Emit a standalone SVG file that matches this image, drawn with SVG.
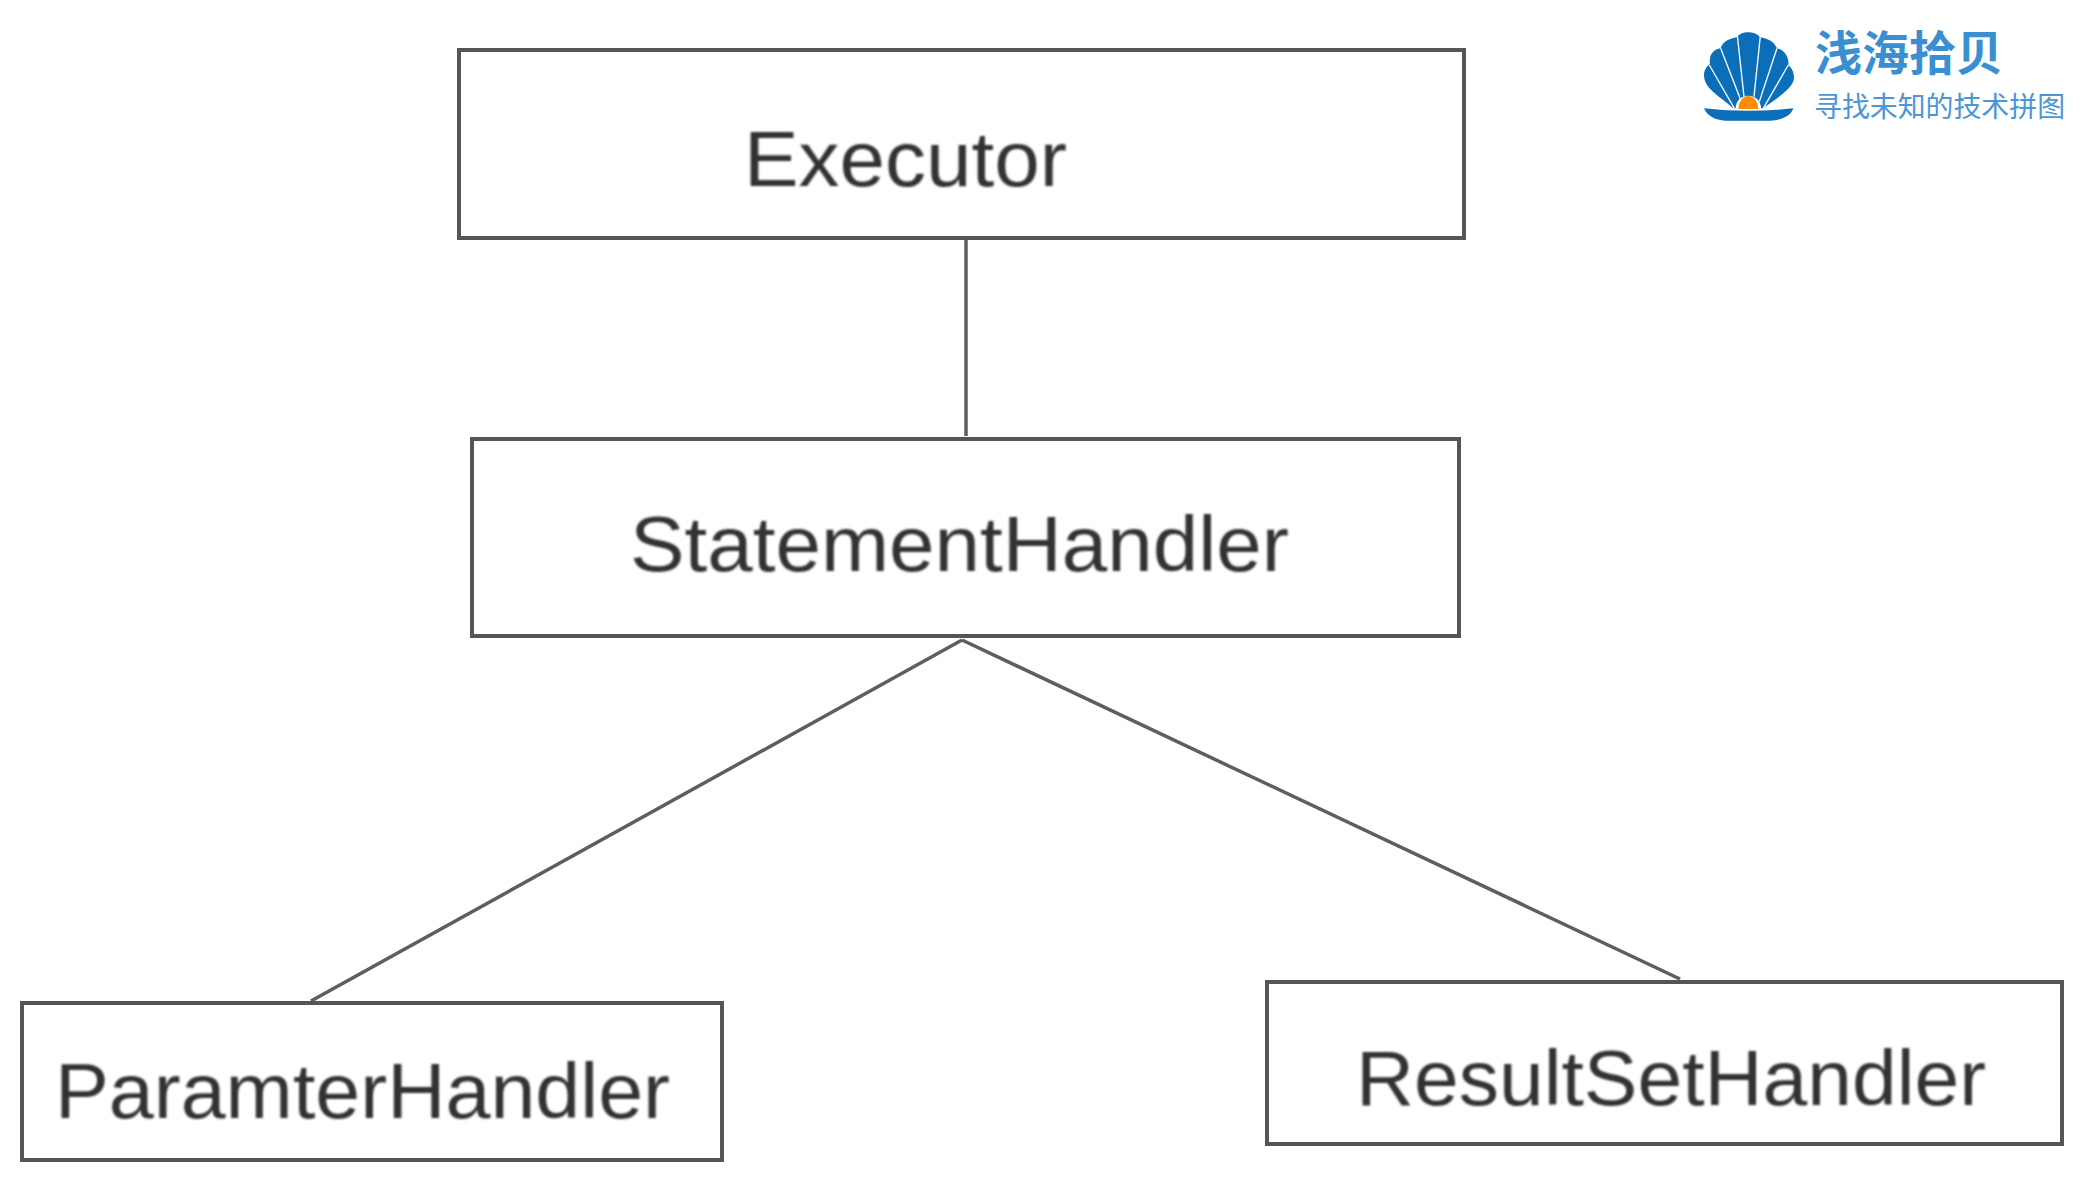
<svg xmlns="http://www.w3.org/2000/svg" width="2098" height="1196" viewBox="0 0 2098 1196">
<defs>
<style>
.box{fill:#fff;stroke:#555;stroke-width:4}
.conn{fill:none;stroke:#5e5e5e;stroke-width:3.5}
.lbl{font-family:"Liberation Sans",Arial,sans-serif;font-size:77px;fill:#333}
.t1{font-family:"Noto Sans CJK SC",sans-serif;font-size:47px;font-weight:700;fill:#3a8fd2}
.t2{font-family:"Noto Sans CJK SC",sans-serif;font-size:27.9px;fill:#4a96d6}
.rib{fill:none;stroke:#fff;stroke-width:4}
</style>
<filter id="soft" x="-5%" y="-20%" width="110%" height="140%"><feGaussianBlur stdDeviation="1"/></filter>
</defs>
<rect width="2098" height="1196" fill="#fff"/>
<g id="connectors">
<line class="conn" x1="966" y1="238" x2="966" y2="436"/>
<line class="conn" x1="962" y1="640" x2="311" y2="1001"/>
<line class="conn" x1="962" y1="640" x2="1680" y2="979"/>
</g>
<g id="executor">
<rect class="box" x="459" y="50" width="1005" height="188"/>
<text class="lbl" x="744" y="186" textLength="323" lengthAdjust="spacingAndGlyphs" filter="url(#soft)">Executor</text>
</g>
<g id="statement-handler">
<rect class="box" x="472" y="439" width="987" height="197"/>
<text class="lbl" x="630" y="571" textLength="659" lengthAdjust="spacingAndGlyphs" filter="url(#soft)">StatementHandler</text>
</g>
<g id="paramter-handler">
<rect class="box" x="22" y="1003" width="700" height="157"/>
<text class="lbl" x="55" y="1118" textLength="615" lengthAdjust="spacingAndGlyphs" filter="url(#soft)">ParamterHandler</text>
</g>
<g id="resultset-handler">
<rect class="box" x="1267" y="982" width="795" height="162"/>
<text class="lbl" x="1356" y="1105" textLength="630" lengthAdjust="spacingAndGlyphs" filter="url(#soft)">ResultSetHandler</text>
</g>
<g id="logo">
<g transform="translate(1680 0) scale(0.3333)">
<path fill="#0a6eb8" d="M160 325C115 285 72 265 72 225C72 208 82 198 90 192C86 165 100 148 122 145C128 125 150 115 170 112C180 100 192 97 205 97C220 97 232 102 241 112C262 115 282 125 291 145C312 150 328 170 325 195C335 205 342 215 342 232C342 265 295 290 250 325Z"/>
<path class="rib" d="M163 325L88 195M186 310L122 145M192 290L172 106M222 290L241 108M238 305L291 145M250 325L325 195"/>
<circle cx="205" cy="325" r="38" fill="#fff"/>
<path fill="#ff8c00" d="M175 327A30 39 0 0 1 235 327Z"/>
<path fill="#0a6eb8" d="M72 325Q205 340 340 325C332 350 300 362 270 362L140 362C110 362 82 350 72 325Z"/>
</g>
<text class="t1" x="1815" y="70">浅海拾贝</text>
<text class="t2" x="1814" y="117">寻找未知的技术拼图</text>
</g>
</svg>
